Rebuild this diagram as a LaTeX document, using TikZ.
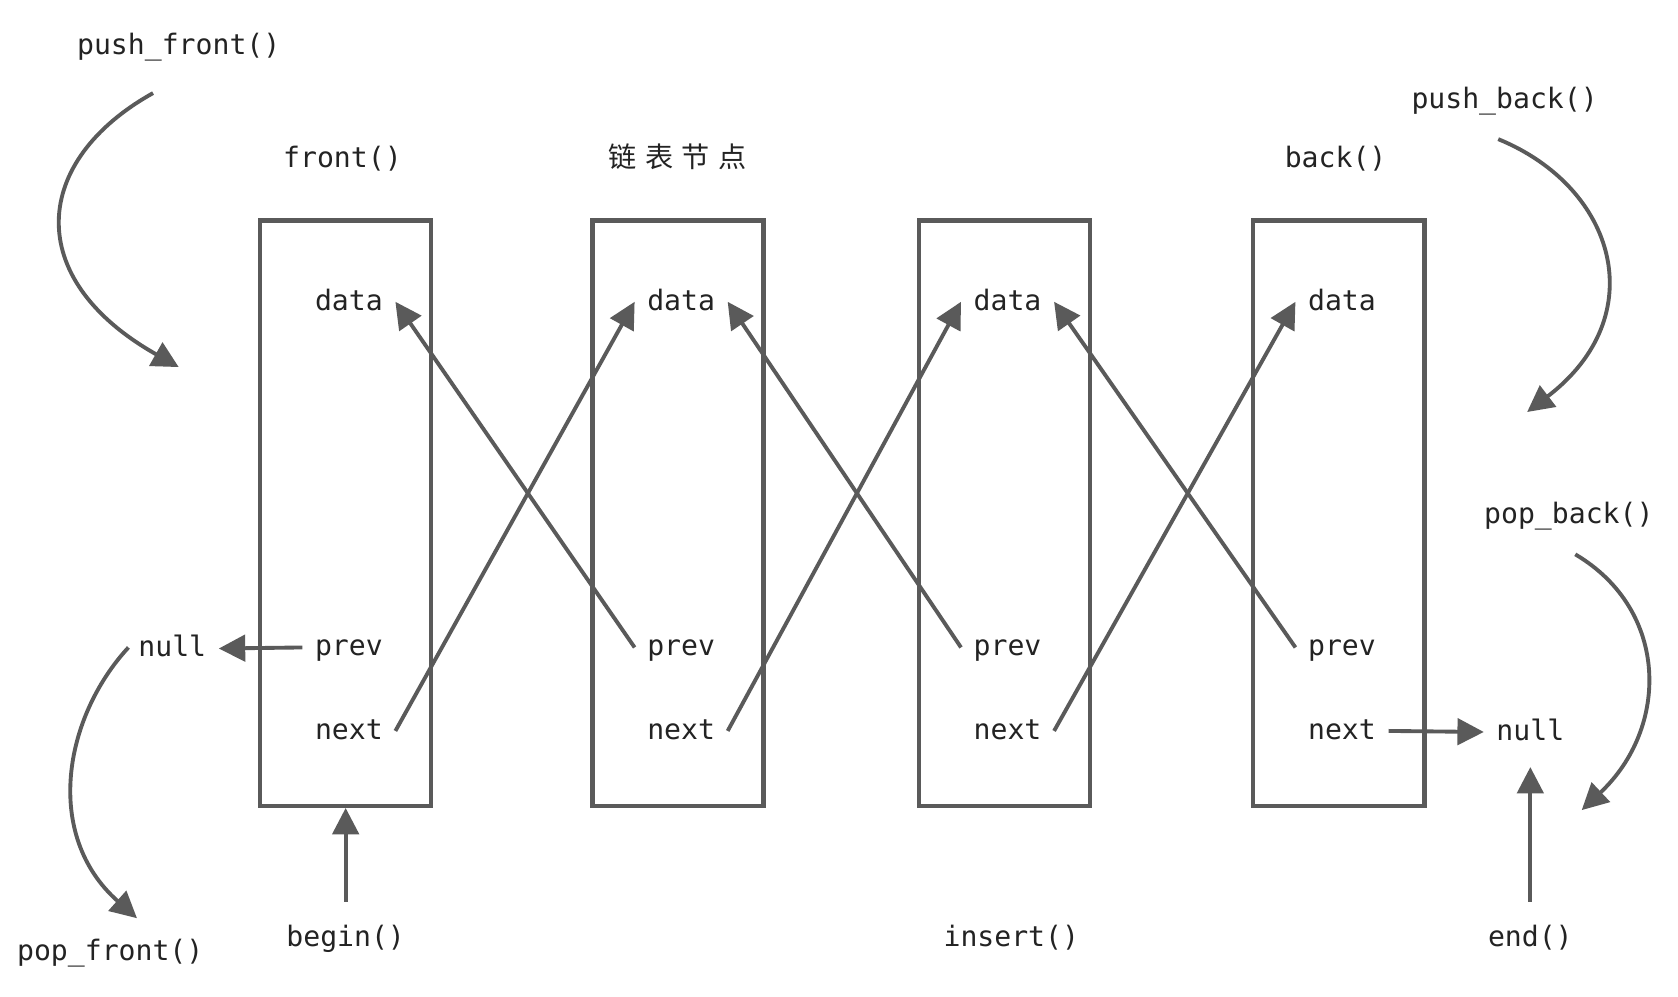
\documentclass[tikz,border=0pt]{standalone}
\usepackage{fontspec}
\setmainfont{DejaVu Sans Mono}
\newfontfamily\cjkfont{Noto Sans CJK SC}
\usepackage{tikz}
\usetikzlibrary{arrows.meta, positioning}
\definecolor{LineGray}{RGB}{90,90,90}
\definecolor{TextDark}{RGB}{35,35,35}

\tikzset{
  cell/.style={draw=LineGray, line width=2.5pt, rectangle,
    minimum width=3.42cm, minimum height=11.7cm, inner sep=0pt},
  field/.style={font=\fontsize{16}{19}\selectfont, text=TextDark,
    inner sep=7pt, text height=0.95em, text depth=0em},
  label/.style={font=\fontsize{16}{19}\selectfont, text=TextDark,
    inner sep=0pt, text height=0.95em, text depth=0em},
  ptr/.style={draw=LineGray, line width=2.2pt,
    -{Triangle[length=15pt, width=15pt]}}
}

\begin{document}
\begin{tikzpicture}[x=0.0214cm, y=-0.0214cm]

  % Page
  \fill[white] (0,0) rectangle (1568,931);
  \useasboundingbox (0,0) rectangle (1568,931);

  % List nodes
  \foreach \i/\x in {1/323, 2/633.5, 3/938.5, 4/1251} {
    \node[cell]  (box\i)  at (\x,479.5) {};
    \node[field] (data\i) at (\x+3,282) {data};
    \node[field] (prev\i) at (\x+3,605) {prev};
    \node[field] (next\i) at (\x+3,683) {next};
  }

  % Links between neighbours
  \foreach \i/\j in {1/2, 2/3, 3/4} {
    \draw[ptr] (next\i.east) -- (data\j.west);
    \draw[ptr] (prev\j.west) -- (data\i.east);
  }

  % Ends of the list
  \node[field] (nullL) at (161,606) {null};
  \node[field] (nullR) at (1430,684) {null};
  \draw[ptr] (prev1.west) -- (nullL.east);
  \draw[ptr] (next4.east) -- (nullR.west);

  % Labels
  \node[label] (frontf) at (320,149) {front()};
  \node[label] (title)  at (633,149) {\cjkfont 链\hspace{0.3em}表\hspace{0.3em}节\hspace{0.3em}点};
  \node[label] (backf)  at (1248,149) {back()};
  \node[label] (pushf)  at (167,43) {push\_front()};
  \node[label] (pushb)  at (1406,94) {push\_back()};
  \node[label] (popb)   at (1466,481) {pop\_back()};
  \node[label] (popf)   at (103,890) {pop\_front()};
  \node[label] (beginf) at (323,877) {begin()};
  \node[label] (insertf) at (945,877) {insert()};
  \node[label] (endf)   at (1430,877) {end()};

  % Iterators
  \draw[ptr, shorten <=16pt] (beginf.north) -- (box1.south);
  \draw[ptr, shorten <=16pt, shorten >=8pt] (endf.north) -- (nullR.south);

  % Push / pop curves
  \coordinate (pfA) at (143,87);
  \coordinate (pfB) at (167,343);
  \coordinate (ofA) at (120,605);
  \coordinate (ofB) at (128,858);
  \coordinate (pbA) at (1400,130);
  \coordinate (pbB) at (1427,385);
  \coordinate (obA) at (1472,518);
  \coordinate (obB) at (1478,757);

  \draw[ptr] (pfA) .. controls (30,150) and (20,260) .. (pfB);
  \draw[ptr] (ofA) .. controls (60,670) and (40,780) .. (ofB);
  \draw[ptr] (pbA) .. controls (1510,175) and (1545,295) .. (pbB);
  \draw[ptr] (obA) .. controls (1560,570) and (1560,680) .. (obB);

\end{tikzpicture}
\end{document}
